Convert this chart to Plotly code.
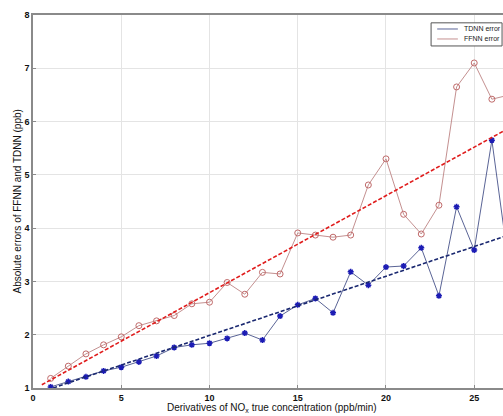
import plotly.graph_objects as go

x_vals = list(range(1, 28))
tdnn_error = [1.02, 1.12, 1.21, 1.32, 1.39, 1.49, 1.60, 1.76, 1.81, 1.84,
              1.93, 2.03, 1.90, 2.35, 2.56, 2.68, 2.41, 3.18, 2.93, 3.27,
              3.29, 3.63, 2.73, 4.40, 3.59, 5.65, 3.20]
ffnn_error = [1.18, 1.41, 1.64, 1.81, 1.96, 2.17, 2.26, 2.36, 2.58, 2.61,
              2.98, 2.76, 3.17, 3.14, 3.91, 3.87, 3.83, 3.87, 4.81, 5.30,
              4.26, 3.89, 4.43, 6.65, 7.10, 6.42, 6.50]
trend_x = [0.5, 30]
tdnn_trend = [0.93, 4.21]
ffnn_trend = [1.06, 6.43]
x_ticks = [0, 5, 10, 15, 20, 25, 30]
y_ticks = [1, 2, 3, 4, 5, 6, 7, 8]
series_names = ["TDNN error", "FFNN error"]

FONT = "Liberation Sans, Arial, sans-serif"
BLUE_LINE, BLUE_MARK = "#5a6496", "#1c1cb4"
RED_LINE, RED_MARK = "#c49090", "#c06a6a"

fig = go.Figure()
fig.add_trace(go.Scatter(x=x_vals, y=tdnn_error, mode="lines+markers", name=series_names[0],
                         showlegend=False,
                         line=dict(color=BLUE_LINE, width=1),
                         marker=dict(symbol="asterisk-open", size=5, color=BLUE_MARK,
                                     line=dict(color=BLUE_MARK, width=1.5))))
fig.add_trace(go.Scatter(x=x_vals, y=ffnn_error, mode="lines+markers", name=series_names[1],
                         showlegend=False,
                         line=dict(color=RED_LINE, width=1),
                         marker=dict(symbol="circle-open", size=6, color=RED_MARK,
                                     line=dict(color=RED_MARK, width=1))))
fig.add_trace(go.Scatter(x=trend_x, y=ffnn_trend, mode="lines", showlegend=False,
                         line=dict(color="#e01c1c", width=1.6, dash="4px,2px")))
fig.add_trace(go.Scatter(x=trend_x, y=tdnn_trend, mode="lines", showlegend=False,
                         line=dict(color="#1a2870", width=1.6, dash="4px,2px")))

# compact MATLAB-style legend drawn in plot-fraction coordinates (overlay axes 0..1)
leg_x0, leg_x1, leg_y0, leg_y1 = 0.847, 0.998, 0.917, 0.979
leg_rows = [0.9625, 0.9357]
samp_x0, samp_x1, samp_mid, text_x = 0.860, 0.904, 0.882, 0.913
fig.add_trace(go.Scatter(x=[samp_mid], y=[leg_rows[0]], xaxis="x2", yaxis="y2", mode="markers",
                         showlegend=False, hoverinfo="skip",
                         marker=dict(symbol="asterisk-open", size=5, color=BLUE_MARK,
                                     line=dict(color=BLUE_MARK, width=1.5))))
fig.add_trace(go.Scatter(x=[samp_mid], y=[leg_rows[1]], xaxis="x2", yaxis="y2", mode="markers",
                         showlegend=False, hoverinfo="skip",
                         marker=dict(symbol="circle-open", size=6, color=RED_MARK,
                                     line=dict(color=RED_MARK, width=1))))

shapes = [
    dict(type="rect", xref="paper", yref="paper", x0=leg_x0, x1=leg_x1, y0=leg_y0, y1=leg_y1,
         line=dict(color="#555", width=1), fillcolor="white", layer="above"),
    dict(type="line", xref="paper", yref="paper", x0=samp_x0, x1=samp_x1,
         y0=leg_rows[0], y1=leg_rows[0], line=dict(color=BLUE_LINE, width=1), layer="above"),
    dict(type="line", xref="paper", yref="paper", x0=samp_x0, x1=samp_x1,
         y0=leg_rows[1], y1=leg_rows[1], line=dict(color=RED_LINE, width=1), layer="above"),
]

axis_common = dict(showgrid=True, gridcolor="#e4e4e4", gridwidth=1,
                   showline=True, linecolor="#8a8a8a", linewidth=1.5, mirror=True,
                   ticks="inside", ticklen=3, tickcolor="#8a8a8a",
                   tickfont=dict(family=FONT, size=9, color="#111", weight="bold"),
                   zeroline=False, automargin=False)

annotations = [
    dict(text="Derivatives of NO<sub>x</sub> true concentration (ppb/min)",
         x=0.508, y=-0.054, xref="paper", yref="paper", showarrow=False,
         xanchor="center", yanchor="middle",
         font=dict(family=FONT, size=10, color="#111")),
    dict(text="Absolute errors of FFNN and TDNN (ppb)",
         x=-0.032, y=0.5, xref="paper", yref="paper", showarrow=False,
         xanchor="center", yanchor="middle", textangle=-90,
         font=dict(family=FONT, size=10, color="#111")),
]
for name, row in zip(series_names, leg_rows):
    annotations.append(dict(text=name, x=text_x, y=row, xref="paper", yref="paper",
                            showarrow=False, xanchor="left", yanchor="middle",
                            font=dict(family=FONT, size=7, color="#222")))

fig.update_layout(
    width=503, height=416,
    margin=dict(l=33, r=0, t=15, b=28),
    plot_bgcolor="white", paper_bgcolor="white",
    xaxis=dict(range=[0, 26.63], tickvals=x_ticks, **axis_common),
    yaxis=dict(range=[1, 8], tickvals=y_ticks, **axis_common),
    xaxis2=dict(overlaying="x", range=[0, 1], visible=False),
    yaxis2=dict(overlaying="y", range=[0, 1], visible=False),
    showlegend=False,
    shapes=shapes,
    annotations=annotations,
)

fig.write_html("out.html", config={"displayModeBar": False},
               post_script="document.body.style.margin='0';document.body.style.overflow='hidden';")
